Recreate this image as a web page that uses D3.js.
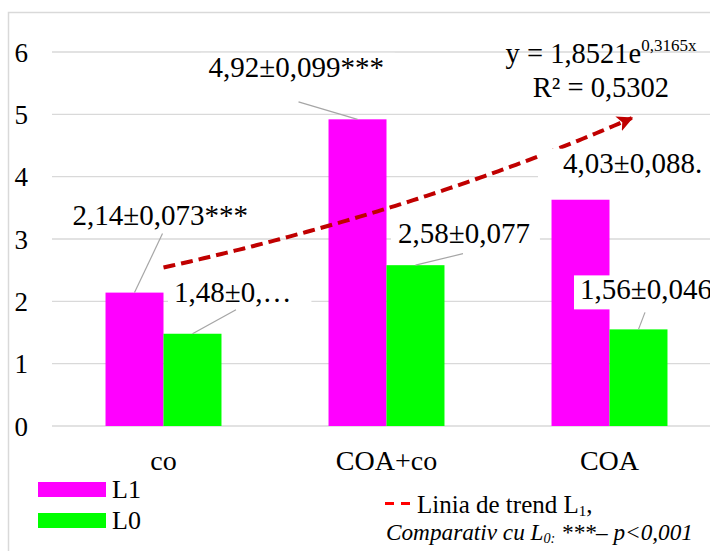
<!DOCTYPE html>
<html><head><meta charset="utf-8">
<script src="https://cdn.jsdelivr.net/npm/d3@7"></script>
<style>html,body{margin:0;padding:0;background:#fff;overflow:hidden}</style>
</head><body>
<svg id="chart" width="710" height="551"></svg>
<script>
// ---- data ----
const categories = ["co", "COA+co", "COA"];
const seriesNames = ["L1", "L0"];
const valuesL1 = [2.14, 4.92, 3.63];
const valuesL0 = [1.48, 2.58, 1.55];
const labelsL1 = ["2,14±0,073***", "4,92±0,099***", "4,03±0,088."];
const labelsL0 = ["1,48±0,…", "2,58±0,077", "1,56±0,046"];
const yTicks = [0, 1, 2, 3, 4, 5, 6];
const trendA = 1.8521, trendB = 0.3165, trendForward = 0.1;
const trendEq = ["y = 1,8521e", "0,3165x"];
const trendR2 = "R² = 0,5302";

// ---- layout / style ----
const FONT = "Liberation Serif";
const colors = {L1: "#ff00ff", L0: "#00ff00"};
const plot = {left: 52, right: 721, top: 52, bottom: 426};
const labelLayout = {
  L1: [{dx: -62, dy: -68, lx: 28, ly: -59, padL: 7, padR: 8},
       {dx: -149, dy: -42.5, lx: -59, ly: -17.5, padL: 8, padR: 11},
       {dx: -17.5, dy: -27, lx: null, ly: null, padL: 25, padR: 40}],
  L0: [{dx: -18.5, dy: -32, lx: 43.5, ly: -24, padL: 6, padR: 20},
       {dx: -17.5, dy: -22.5, lx: 47.5, ly: -11.5, padL: 7, padR: 10},
       {dx: -58.5, dy: -30, lx: 6.5, ly: -17, padL: 6, padR: 10}]
};

const svg = d3.select("#chart");
function txt(sel) { return sel.style("font-family", FONT); }

// chart area border
svg.append("rect").attr("x", 8.5).attr("y", 12.5).attr("width", 800).attr("height", 700)
  .attr("fill", "#fff").attr("stroke", "#d9d9d9").attr("stroke-width", 1.5);

const x0 = d3.scaleBand().domain(categories).range([plot.left, plot.right]).padding(0);
const bw = x0.bandwidth();
const groupW = bw * 0.52;
const x1 = d3.scaleBand().domain(seriesNames).range([(bw - groupW) / 2, (bw + groupW) / 2]).padding(0);
const y = d3.scaleLinear().domain([0, 6]).range([plot.bottom, plot.top]);

// gridlines
svg.append("g").selectAll("line").data(yTicks).join("line")
  .attr("x1", plot.left).attr("x2", plot.right)
  .attr("y1", d => y(d)).attr("y2", d => y(d))
  .attr("stroke", "#d9d9d9").attr("stroke-width", 1.3);

// y tick labels
txt(svg.append("g").selectAll("text").data(yTicks).join("text"))
  .attr("x", 28).attr("y", d => y(d) + 9.5)
  .attr("text-anchor", "end").style("font-size", "27px")
  .attr("fill", "#000").text(d => d);

// bars
const seriesData = {L1: valuesL1, L0: valuesL0};
const barG = svg.append("g");
seriesNames.forEach(s => {
  barG.selectAll("rect." + s).data(categories).join("rect")
    .attr("class", s)
    .attr("x", c => x0(c) + x1(s))
    .attr("width", x1.bandwidth())
    .attr("y", (c, i) => y(seriesData[s][i]))
    .attr("height", (c, i) => y(0) - y(seriesData[s][i]))
    .attr("fill", colors[s]);
});

// category labels
txt(svg.append("g").selectAll("text").data(categories).join("text"))
  .attr("x", c => x0(c) + bw / 2).attr("y", 470)
  .attr("text-anchor", "middle").style("font-size", "28px")
  .text(c => c);

// trend line (exponential)
const xt = d3.scaleLinear().domain([1, 3]).range([x0(categories[0]) + bw / 2, x0(categories[2]) + bw / 2]);
const trendPts = d3.range(1, 3 + trendForward + 1e-9, 0.02).map(t => [xt(t), y(trendA * Math.exp(trendB * t))]);
const defs = svg.append("defs");
defs.append("marker").attr("id", "arr").attr("viewBox", "0 0 10 10")
  .attr("refX", 9).attr("refY", 5).attr("markerWidth", 4).attr("markerHeight", 4)
  .attr("orient", "auto").attr("markerUnits", "strokeWidth")
  .append("path").attr("d", "M0,0 L10,5 L0,10 L2.5,5 Z").attr("fill", "#c00000");
svg.append("path").datum(trendPts)
  .attr("d", d3.line())
  .attr("fill", "none").attr("stroke", "#c00000").attr("stroke-width", 4)
  .attr("stroke-dasharray", "12,6").attr("marker-end", "url(#arr)");

// data labels
const labelG = svg.append("g");
const leaderG = svg.append("g");
const labelSets = {L1: labelsL1, L0: labelsL0};
seriesNames.forEach(s => {
  categories.forEach((c, i) => {
    const L = labelLayout[s][i];
    const bx = x0(c) + x1(s) + x1.bandwidth() / 2;
    const by = y(seriesData[s][i]);
    const g = labelG.append("g");
    const rect = g.append("rect").attr("fill", "#fff");
    const t = txt(g.append("text")).attr("x", bx + L.dx).attr("y", by + L.dy)
      .style("font-size", "29px").attr("fill", "#000")
      .text(labelSets[s][i]);
    const bb = t.node().getBBox();
    rect.attr("x", bb.x - L.padL).attr("y", bb.y + 2).attr("width", bb.width + L.padL + L.padR).attr("height", bb.height + 2);
    if (L.lx !== null) {
      leaderG.append("line")
        .attr("x1", bx + L.lx).attr("y1", by + L.ly).attr("x2", bx).attr("y2", by)
        .attr("stroke", "#a6a6a6").attr("stroke-width", 1.2);
    }
  });
});

// trend equation
const eq = txt(svg.append("text")).attr("x", 601).attr("y", 63).attr("text-anchor", "middle")
  .style("font-size", "28.5px");
eq.append("tspan").text(trendEq[0]);
eq.append("tspan").style("font-size", "17px").attr("dy", -12).text(trendEq[1]);
txt(svg.append("text")).attr("x", 601).attr("y", 97).attr("text-anchor", "middle")
  .style("font-size", "28.5px").text(trendR2);

// legend (series)
seriesNames.forEach((s, i) => {
  svg.append("rect").attr("x", 38).attr("y", 482 + i * 31).attr("width", 68).attr("height", 15)
    .attr("fill", colors[s]);
  txt(svg.append("text")).attr("x", 112).attr("y", 498 + i * 31)
    .style("font-size", "26px").text(s);
});

// legend (trend)
svg.append("line").attr("x1", 385).attr("x2", 411).attr("y1", 503.5).attr("y2", 503.5)
  .attr("stroke", "#ff0000").attr("stroke-width", 3).attr("stroke-dasharray", "9,7");
const lt = txt(svg.append("text")).attr("x", 417).attr("y", 513).style("font-size", "25px");
lt.append("tspan").text("Linia de trend L");
lt.append("tspan").style("font-size", "15px").attr("dy", 3).text("1");
lt.append("tspan").attr("dy", -3).text(",");

const ct = txt(svg.append("text")).attr("x", 386).attr("y", 540)
  .style("font-size", "23px").style("font-style", "italic")
  .attr("textLength", 307).attr("lengthAdjust", "spacingAndGlyphs");
ct.append("tspan").text("Comparativ cu L");
ct.append("tspan").style("font-size", "14px").attr("dy", 3).text("0:");
ct.append("tspan").attr("dy", -3).text(" ***– p<0,001");
</script>
</body></html>
